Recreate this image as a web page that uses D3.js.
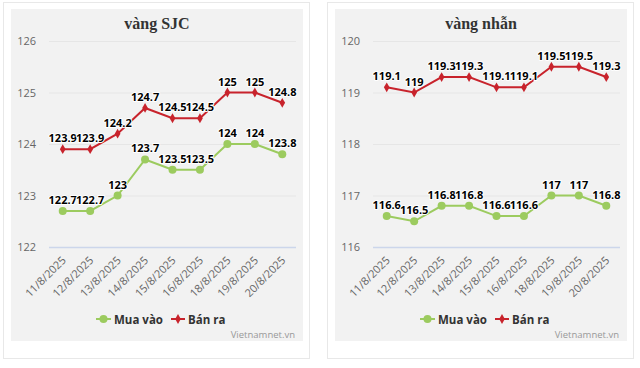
<!DOCTYPE html>
<html>
<head>
<meta charset="utf-8">
<script src="https://cdn.jsdelivr.net/npm/d3@7"></script>
<style>
  body { margin: 0; background: #fff; }
  svg { display: block; font-family: "Open Sans", "DejaVu Sans", sans-serif; }
</style>
</head>
<body>
<script>
// dates shared by both charts
const dates = ["11/8/2025", "12/8/2025", "13/8/2025", "14/8/2025", "15/8/2025",
               "16/8/2025", "18/8/2025", "19/8/2025", "20/8/2025"];

const sjcBuy  = [122.7, 122.7, 123, 123.7, 123.5, 123.5, 124, 124, 123.8];
const sjcSell = [123.9, 123.9, 124.2, 124.7, 124.5, 124.5, 125, 125, 124.8];
const sjcTicks = [122, 123, 124, 125, 126];

const ringBuy  = [116.6, 116.5, 116.8, 116.8, 116.6, 116.6, 117, 117, 116.8];
const ringSell = [119.1, 119, 119.3, 119.3, 119.1, 119.1, 119.5, 119.5, 119.3];
const ringTicks = [116, 117, 118, 119, 120];

const buyColor = "#9ccb5f";
const sellColor = "#c8232c";

const svg = d3.select("body").append("svg")
    .attr("width", 640)
    .attr("height", 368);

function drawPanel(ox, title, buy, sell, ticks, plotLeft) {
    let g = svg.append("g").attr("transform", "translate(" + ox + ",0)");

    // outer card + gray box
    g.append("rect").attr("x", 3.5).attr("y", 2.5).attr("width", 306).attr("height", 356)
        .attr("fill", "#fff").attr("stroke", "#e8e8e8");
    g.append("rect").attr("x", 11).attr("y", 9).attr("width", 292).attr("height", 332)
        .attr("fill", "#f2f2f2");

    let x = d3.scalePoint().domain(dates).range([plotLeft, plotLeft + 247]).padding(0.5);
    let y = d3.scaleLinear().domain([ticks[0], ticks[ticks.length - 1]]).range([247, 41]);

    g.append("text").attr("x", 157).attr("y", 29).attr("text-anchor", "middle")
        .attr("font-family", "'Liberation Serif', 'DejaVu Serif', serif")
        .attr("font-weight", "bold").attr("font-size", 16).attr("fill", "#333")
        .text(title);

    // grid
    g.selectAll(".grid").data(ticks).enter().append("line")
        .attr("x1", plotLeft).attr("x2", plotLeft + 247)
        .attr("y1", d => y(d) + 0.5).attr("y2", d => y(d) + 0.5)
        .attr("stroke", (d, i) => i === 0 ? "#ccd6eb" : "#e6e6e6")
        .attr("stroke-width", (d, i) => i === 0 ? 1.5 : 1);

    g.selectAll(".ytick").data(ticks).enter().append("text")
        .attr("x", plotLeft - 13).attr("y", d => y(d) + 4)
        .attr("text-anchor", "end").attr("font-size", 11).attr("fill", "#666")
        .text(d => d);

    g.selectAll(".xtick").data(dates).enter().append("text")
        .attr("transform", d => "translate(" + (x(d) + 4) + ",261) rotate(-45)")
        .attr("text-anchor", "end").attr("font-size", 11).attr("fill", "#666")
        .text(d => d);

    let line = d3.line().x((d, i) => x(dates[i])).y(d => y(d));

    // buy series
    g.append("path").datum(buy).attr("d", line).attr("fill", "none")
        .attr("stroke", buyColor).attr("stroke-width", 2);
    g.selectAll(".buyDot").data(buy).enter().append("circle")
        .attr("cx", (d, i) => x(dates[i])).attr("cy", d => y(d)).attr("r", 4)
        .attr("fill", buyColor);

    // sell series
    g.append("path").datum(sell).attr("d", line).attr("fill", "none")
        .attr("stroke", sellColor).attr("stroke-width", 2);
    g.selectAll(".sellDot").data(sell).enter().append("path")
        .attr("transform", (d, i) => "translate(" + x(dates[i]) + "," + y(d) + ")")
        .attr("d", d3.symbol(d3.symbolDiamond, 28))
        .attr("fill", sellColor);

    // data labels
    let all = buy.map((d, i) => ({v: d, i: i})).concat(sell.map((d, i) => ({v: d, i: i})));
    g.selectAll(".lbl").data(all).enter().append("text")
        .attr("x", d => x(dates[d.i])).attr("y", d => y(d.v) - 7)
        .attr("text-anchor", "middle").attr("font-size", 11).attr("font-weight", "bold")
        .attr("fill", "#000").attr("stroke", "#fff").attr("stroke-width", 2)
        .attr("paint-order", "stroke").attr("stroke-linejoin", "round")
        .text(d => d.v);

    // legend
    let lg = g.append("g").attr("transform", "translate(96,319)");
    lg.append("line").attr("x1", 0).attr("x2", 15).attr("stroke", buyColor).attr("stroke-width", 2);
    lg.append("circle").attr("cx", 7.5).attr("r", 4).attr("fill", buyColor);
    lg.append("text").attr("x", 18).attr("y", 4.5).attr("font-size", 11.5).attr("font-weight", "bold")
        .attr("fill", "#333").text("Mua vào");
    lg.append("line").attr("x1", 75).attr("x2", 89).attr("stroke", sellColor).attr("stroke-width", 2);
    lg.append("path").attr("transform", "translate(82,0)")
        .attr("d", d3.symbol(d3.symbolDiamond, 28)).attr("fill", sellColor);
    lg.append("text").attr("x", 92).attr("y", 4.5).attr("font-size", 11.5).attr("font-weight", "bold")
        .attr("fill", "#333").text("Bán ra");

    g.append("text").attr("x", 295).attr("y", 338).attr("text-anchor", "end")
        .attr("font-size", 9.5).attr("fill", "#999").text("Vietnamnet.vn");
}

drawPanel(0, "vàng SJC", sjcBuy, sjcSell, sjcTicks, 49);
drawPanel(324, "vàng nhẫn", ringBuy, ringSell, ringTicks, 49);
</script>
</body>
</html>
